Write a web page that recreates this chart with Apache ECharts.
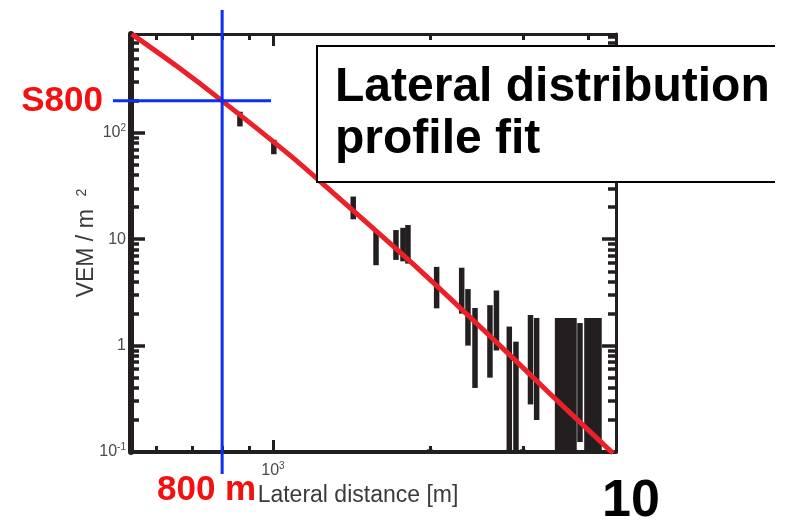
<!DOCTYPE html>
<html><head><meta charset="utf-8">
<script src="https://cdn.jsdelivr.net/npm/echarts@6/dist/echarts.min.js"></script>
<style>html,body{margin:0;padding:0;background:#fff}#c{width:787px;height:524px}</style>
</head><body><div id="c"></div>
<script>
// axis ranges
const xRange = [536, 4515];
const yRange = [0.1, 850];
// tick values
const xMajorTicks = [1000];
const xMinorTicks = [600, 700, 800, 900, 2000, 3000, 4000];
const yMajorTicks = [0.1, 1, 10, 100];
const yMinorTicks = [0.2, 0.3, 0.4, 0.5, 0.6, 0.7, 0.8, 0.9, 2, 3, 4, 5, 6, 7, 8, 9, 20, 30, 40, 50, 60, 70, 80, 90, 200, 300, 400, 500, 600, 700, 800];
const xTickLabels = [1000];
const yTickLabels = [0.1, 1, 10, 100];
// station signals with error bars (distance [m], lower, upper) in VEM/m^2
const stationDistance = [865, 1004, 1423, 1573, 1717, 1771, 1810, 1993, 2053, 2292, 2356, 2430, 2595, 2670, 2825, 2909, 2996, 3101, 3186, 3493, 3560, 3624, 3688, 3754, 3854, 3974, 4045, 4117, 4190];
const signalLow  = [115, 63, 15.4, 5.7, 6.4, 6.2, 5.9, 0.08, 2.24, 2.0, 1.0, 0.4, 0.5, 0.9, 0.08, 0.08, 0.08, 0.28, 0.2, 0.08, 0.08, 0.08, 0.08, 0.08, 0.124, 0.08, 0.08, 0.08, 0.08];
const signalHigh = [158, 86, 25.2, 11.8, 12.2, 12.8, 13.6, 0.106, 5.5, 5.4, 3.4, 2.26, 2.4, 3.3, 1.51, 1.09, 0.106, 1.94, 1.82, 1.82, 1.82, 1.82, 1.82, 1.82, 1.63, 1.82, 1.82, 1.82, 1.82];
// lateral distribution fit
const fitDistance = [538, 656, 800, 1077, 1285, 1908, 2712, 3378, 4457];
const fitSignal   = [848, 422, 200, 61.7, 28.9, 5.1, 1.0, 0.353, 0.097];
// S800 marker
const s800Distance = 800;
const s800Value = 200;

const INK = '#231f20';
const LABEL = '#4a4a4a';
const FONT = '"Liberation Sans", Arial, sans-serif';

function tickFmt(v) {
  const e = Math.round(Math.log10(v));
  if (e === 0) return '{b|1}';
  if (e === 1) return '{b|10}';
  return '{b|10}{s|' + e + '}';
}
const tickRich = {
  b: { fontSize: 16, color: LABEL, fontFamily: FONT, lineHeight: 20 },
  s: { fontSize: 10, color: LABEL, fontFamily: FONT, lineHeight: 12, verticalAlign: 'top' }
};

function mkX(pos, major, withLabel, lw) {
  return {
    type: 'log', position: pos, min: xRange[0], max: xRange[1],
    axisLine: { show: major, onZero: false, lineStyle: { color: INK, width: lw } },
    axisTick: { show: true, inside: true, customValues: major ? xMajorTicks : xMinorTicks,
      length: major ? 12 : 6, lineStyle: { color: INK, width: 3 } },
    axisLabel: withLabel ? { show: true, customValues: xTickLabels, margin: 9, formatter: tickFmt, rich: tickRich } : { show: false },
    splitLine: { show: false },
    name: withLabel ? 'Lateral distance [m]' : '',
    nameLocation: 'middle', nameGap: 32, nameMoveOverlap: false,
    nameTextStyle: { fontSize: 23, color: '#3a3a3a', fontFamily: FONT, padding: [0, 31, 0, 0] }
  };
}
function mkY(pos, major, withLabel, lw) {
  return {
    type: 'log', position: pos, min: yRange[0], max: yRange[1],
    axisLine: { show: major, onZero: false, lineStyle: { color: INK, width: lw } },
    axisTick: { show: true, inside: true, customValues: major ? yMajorTicks : yMinorTicks,
      length: major ? 14 : 8, lineStyle: { color: INK, width: 3.5 } },
    axisLabel: withLabel ? { show: true, customValues: yTickLabels, margin: 5, formatter: tickFmt, rich: tickRich } : { show: false },
    splitLine: { show: false },
    name: withLabel ? 'VEM / m  {s|2}' : '',
    nameLocation: 'middle', nameGap: 33, nameRotate: 90, nameMoveOverlap: false,
    nameTextStyle: { fontSize: 23, color: '#3a3a3a', fontFamily: FONT,
      rich: { s: { fontSize: 14, color: '#3a3a3a', fontFamily: FONT, verticalAlign: 'top', lineHeight: 14 } } }
  };
}

const barData = stationDistance.map((d, i) => [d, signalLow[i], signalHigh[i]]);
const fitData = fitDistance.map((d, i) => [d, fitSignal[i]]);

const chart = echarts.init(document.getElementById('c'), null, { renderer: 'canvas' });
chart.setOption({
  animation: false,
  backgroundColor: '#ffffff',
  grid: { left: 131, right: 171, top: 34, bottom: 72, containLabel: false },
  xAxis: [mkX('bottom', true, true, 4), mkX('bottom', false, false, 4), mkX('top', true, false, 3), mkX('top', false, false, 3)],
  yAxis: [mkY('left', true, true, 6), mkY('left', false, false, 6), mkY('right', true, false, 3), mkY('right', false, false, 3)],
  series: [
    {
      type: 'custom', xAxisIndex: 0, yAxisIndex: 0, z: 3,
      encode: { x: 0, y: [1, 2] },
      data: barData,
      renderItem: function (params, api) {
        const cs = params.coordSys;
        const top = api.coord([api.value(0), api.value(2)]);
        const bot = api.coord([api.value(0), api.value(1)]);
        const y1 = Math.max(top[1], cs.y);
        const y2 = Math.min(bot[1], cs.y + cs.height);
        if (y2 <= y1) return null;
        return { type: 'rect', shape: { x: top[0] - 2.75, y: y1, width: 5.5, height: y2 - y1 }, style: { fill: INK } };
      }
    },
    {
      type: 'line', xAxisIndex: 0, yAxisIndex: 0, z: 5,
      data: fitData, smooth: 0.3, symbol: 'none',
      lineStyle: { color: '#ec2028', width: 5 }
    }
  ]
});

const p = chart.convertToPixel({ xAxisIndex: 0, yAxisIndex: 0 }, [s800Distance, s800Value]);
const BLUE = '#0b2ff5';
chart.setOption({
  graphic: [
    { type: 'line', z: 50, shape: { x1: p[0], y1: 10, x2: p[0], y2: 474 }, style: { stroke: BLUE, lineWidth: 3 } },
    { type: 'line', z: 50, shape: { x1: 113, y1: p[1], x2: 271, y2: p[1] }, style: { stroke: BLUE, lineWidth: 3 } },
    { type: 'text', z: 50, x: 103, y: p[1], style: { text: 'S800', fill: '#f50f0f', font: 'bold 35px ' + FONT, align: 'right', verticalAlign: 'middle' } },
    { type: 'text', z: 50, x: 157, y: 490, style: { text: '800 m', fill: '#f50f0f', font: 'bold 35px ' + FONT, align: 'left', verticalAlign: 'middle' } },
    { type: 'text', z: 50, x: 631, y: 502, style: { text: '10', fill: '#000', font: 'bold 52px ' + FONT, align: 'center', verticalAlign: 'middle' } },
    { type: 'rect', z: 60, shape: { x: 317, y: 46, width: 458, height: 136 }, style: { fill: '#fff', stroke: null } },
    { type: 'polyline', z: 61, shape: { points: [[775, 46], [317, 46], [317, 182], [775, 182]] }, style: { stroke: '#000', lineWidth: 2, fill: null } },
    { type: 'text', z: 62, x: 335, y: 88, style: { text: 'Lateral distribution', fill: '#000', font: 'bold 48px ' + FONT, align: 'left', verticalAlign: 'middle' } },
    { type: 'text', z: 62, x: 335, y: 140, style: { text: 'profile fit', fill: '#000', font: 'bold 48px ' + FONT, align: 'left', verticalAlign: 'middle' } }
  ]
});
</script></body></html>
